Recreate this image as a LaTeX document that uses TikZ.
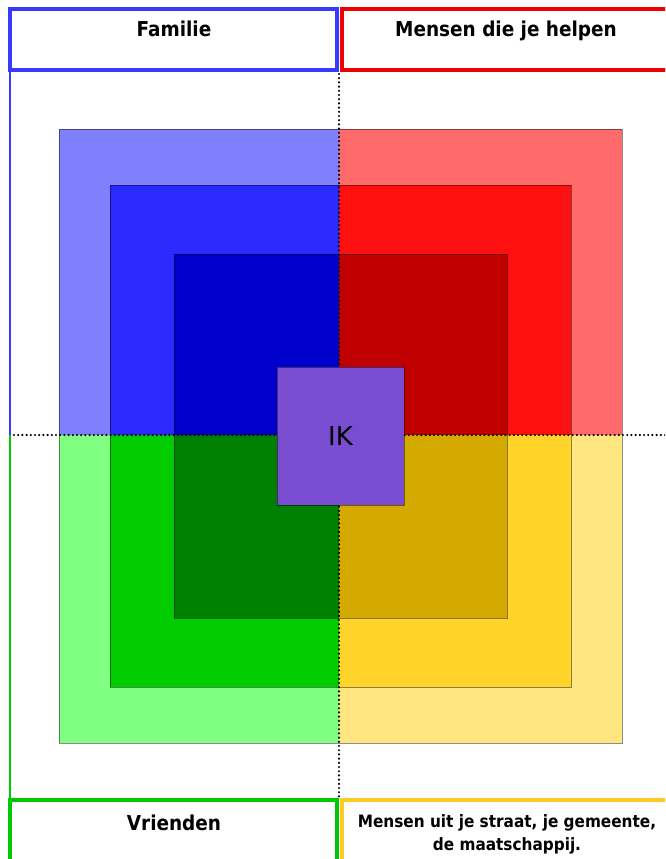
\documentclass[tikz,border=0pt]{standalone}
\usepackage{fontspec}
\setmainfont{DejaVu Sans}
\newfontfamily\condbold{DejaVu Sans Condensed}[BoldFont={DejaVu Sans Condensed Bold}]
\definecolor{bOut}{HTML}{8080FF}
\definecolor{rOut}{HTML}{FF6B6B}
\definecolor{gOut}{HTML}{80FF80}
\definecolor{yOut}{HTML}{FFE680}
\definecolor{bMid}{HTML}{2A2AFF}
\definecolor{rMid}{HTML}{FF1010}
\definecolor{gMid}{HTML}{00CC00}
\definecolor{yMid}{HTML}{FFD42A}
\definecolor{bIn}{HTML}{0000CC}
\definecolor{rIn}{HTML}{C00000}
\definecolor{gIn}{HTML}{008000}
\definecolor{yIn}{HTML}{D4AA00}
\definecolor{ikc}{HTML}{7A4CD0}
\definecolor{hdrBlue}{HTML}{3A3AFF}
\definecolor{hdrRed}{HTML}{EE0000}
\definecolor{hdrGreen}{HTML}{00C800}
\definecolor{hdrYellow}{HTML}{FFCC22}
\tikzset{
  quad/.style={draw=black, draw opacity=0.45, line width=1pt, inner sep=0pt, outer sep=0pt},
  hdr/.style={line width=4pt, fill=white, inner sep=0pt, outer sep=0pt},
  lbl/.style={font=\condbold\bfseries\fontsize{20.5}{24}\selectfont, inner sep=0pt, anchor=base},
  sep/.style={line width=2.4pt, dash pattern=on 0pt off 4.2pt, line cap=round}
}
\begin{document}
\begin{tikzpicture}[x=1pt,y=-1pt]
\useasboundingbox (0,0) rectangle (665,859);
\clip (0,0) rectangle (665,859);
\fill[white] (0,0) rectangle (665,859);
% centre
\coordinate (c) at (339,435);
% outer squares
\fill[bOut] (59,129) rectangle (c);
\fill[rOut] (622,129) rectangle (c);
\fill[gOut] (59,743) rectangle (c);
\fill[yOut] (622,743) rectangle (c);
\draw[quad] (59,129) rectangle (622,743);
% middle
\fill[bMid] (110,185) rectangle (c);
\fill[rMid] (571,185) rectangle (c);
\fill[gMid] (110,687) rectangle (c);
\fill[yMid] (571,687) rectangle (c);
\draw[quad] (110,185) rectangle (571,687);
% inner
\fill[bIn] (174,254) rectangle (c);
\fill[rIn] (507,254) rectangle (c);
\fill[gIn] (174,618) rectangle (c);
\fill[yIn] (507,618) rectangle (c);
\draw[quad] (174,254) rectangle (507,618);
% side lines
\coordinate (lt) at (10,70);
\coordinate (lm) at (10,435);
\coordinate (lb) at (10,800);
\draw[hdrBlue, line width=2pt] (lt) -- (lm);
\draw[hdrGreen, line width=2pt] (lm) -- (lb);
% dotted separators
\coordinate (vt) at (339,74);
\coordinate (vb) at (339,797);
\coordinate (hl) at (14,435);
\coordinate (hr) at (665,435);
\draw[sep] (vt) -- (vb);
\draw[sep] (hl) -- (hr);
% IK
\node[quad, fill=ikc, minimum width=127pt, minimum height=138pt,
      font=\fontsize{26}{30}\selectfont] (ik) at (340.5,436) {IK};
% header boxes
\draw[hdr, draw=hdrBlue] (10,9) rectangle (337,70);
\draw[hdr, draw=hdrRed] (342,9) rectangle (690,70);
\draw[hdr, draw=hdrGreen] (10,800) rectangle (337,890);
\draw[hdr, draw=hdrYellow] (342,800) rectangle (690,890);
\node[lbl] (fam) at (174,37) {Familie};
\node[lbl] (help) at (506,37) {Mensen die je helpen};
\node[lbl] (vri) at (174,830) {Vrienden};
\node[font=\condbold\bfseries\fontsize{17}{23}\selectfont, align=center, inner sep=0pt] (maat) at (507,834)
  {Mensen uit je straat, je gemeente,\\ de maatschappij.};
\end{tikzpicture}
\end{document}
